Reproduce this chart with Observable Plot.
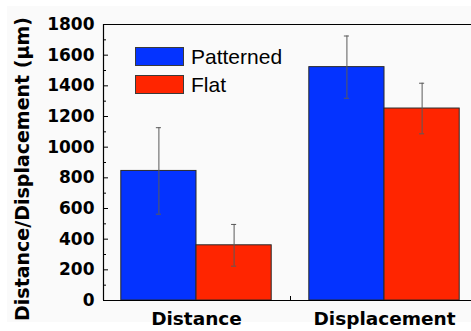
<!DOCTYPE html>
<html><head><meta charset="utf-8">
<script src="https://cdn.jsdelivr.net/npm/d3@7"></script>
<script src="https://cdn.jsdelivr.net/npm/@observablehq/plot@0.6"></script>
<style>
html,body{margin:0;padding:0;background:#fff;}
#wrap{position:relative;width:471px;height:331px;overflow:hidden;}
#bg{position:absolute;left:7px;top:6px;width:464px;height:316px;background:#fafafa;}
#chart{position:absolute;left:0;top:0;}
.lrow{position:absolute;left:135px;height:19px;display:flex;align-items:center;font:21px "Liberation Sans",Arial,sans-serif;color:#000;line-height:19px;}
.sw{width:49px;height:19px;box-sizing:border-box;border:1px solid #3a3a3a;margin-right:7px;}
</style>
</head><body>
<div id="wrap"><div id="bg"></div><div id="chart"></div></div>
<script>
const categories = ["Distance", "Displacement"];
const series = ["Patterned", "Flat"];
const colors = ["#0433ff", "#ff2500"];
const patterned = [845, 1522];
const patternedErr = [282, 203];
const flat = [360, 1252];
const flatErr = [136, 165];
const yTicks = [0, 200, 400, 600, 800, 1000, 1200, 1400, 1600, 1800];
const yMinor = [100, 300, 500, 700, 900, 1100, 1300, 1500, 1700];
const yLabel = "Distance/Displacement (μm)";

const W = 471, H = 331, mL = 103, mR = 0, mT = 24, mB = 31;
const plotW = W - mL - mR, plotH = H - mT - mB;
const barW = 0.4, x0 = 0.5053, x1max = 2.4627, cap = 0.0135;
const vals = [patterned, flat], errs = [patternedErr, flatErr];
const rows = categories.flatMap((c, i) => series.map((s, j) => {
  const a = i + 1 + (j - 1) * barW;
  return {cat: c, series: s, x1: a, x2: a + barW, xc: a + barW / 2, v: vals[j][i], e: errs[j][i]};
}));

const chart = Plot.plot({
  width: W, height: H,
  marginLeft: mL, marginRight: mR, marginTop: mT, marginBottom: mB,
  style: {background: "transparent", fontFamily: "DejaVu Sans", color: "#000"},
  x: {domain: [x0, x1max]},
  y: {domain: [0, 1800]},
  color: {domain: series, range: colors},
  marks: [
    Plot.rect(rows, {x1: "x1", x2: "x2", y1: 0, y2: "v", fill: "series", stroke: "#2a2a2a", strokeWidth: 1}),
    Plot.ruleX(rows, {x: "xc", y1: d => d.v - d.e, y2: d => d.v + d.e, stroke: "#5a5a5a", strokeWidth: 1}),
    Plot.ruleY(rows, {y: d => d.v + d.e, x1: d => d.xc - cap, x2: d => d.xc + cap, stroke: "#5a5a5a"}),
    Plot.ruleY(rows, {y: d => d.v - d.e, x1: d => d.xc - cap, x2: d => d.xc + cap, stroke: "#5a5a5a"}),
    Plot.ruleY([0, 1800], {stroke: "#000", strokeWidth: 1.2}),
    Plot.ruleX([x0], {stroke: "#000", strokeWidth: 1.2}),
    Plot.tickY(yTicks, {y: d => d, insetRight: plotW - 5, stroke: "#000"}),
    Plot.tickY(yMinor, {y: d => d, insetRight: plotW - 3, stroke: "#000"}),
    Plot.tickX([1.5], {x: d => d, insetTop: plotH - 4, stroke: "#000"}),
    Plot.axisY(yTicks, {tickSize: 0, tickPadding: 9, tickFormat: d => String(d), fontSize: 17, fontWeight: "bold", fontFamily: "DejaVu Sans", label: null}),
    Plot.axisX([1, 2], {tickSize: 0, tickPadding: 11, tickFormat: d => categories[d - 1], fontSize: 18.5, fontWeight: "bold", fontFamily: "DejaVu Sans", label: null}),
    Plot.text([yLabel], {frameAnchor: "left", text: d => d, rotate: -90, textAnchor: "middle", lineAnchor: "middle", dx: -81, dy: 6.5, fontSize: 19, fontWeight: "bold", fontFamily: "DejaVu Sans", fill: "#000"})
  ]
});
document.getElementById("chart").appendChild(chart);

const wrap = document.getElementById("wrap");
const tops = [47, 74.5];
series.forEach((s, j) => {
  const r = document.createElement("div");
  r.className = "lrow";
  r.style.top = tops[j] + "px";
  const sw = document.createElement("div");
  sw.className = "sw";
  sw.style.background = colors[j];
  r.appendChild(sw);
  const t = document.createElement("span");
  t.textContent = s;
  r.appendChild(t);
  wrap.appendChild(r);
});
</script>
</body></html>
